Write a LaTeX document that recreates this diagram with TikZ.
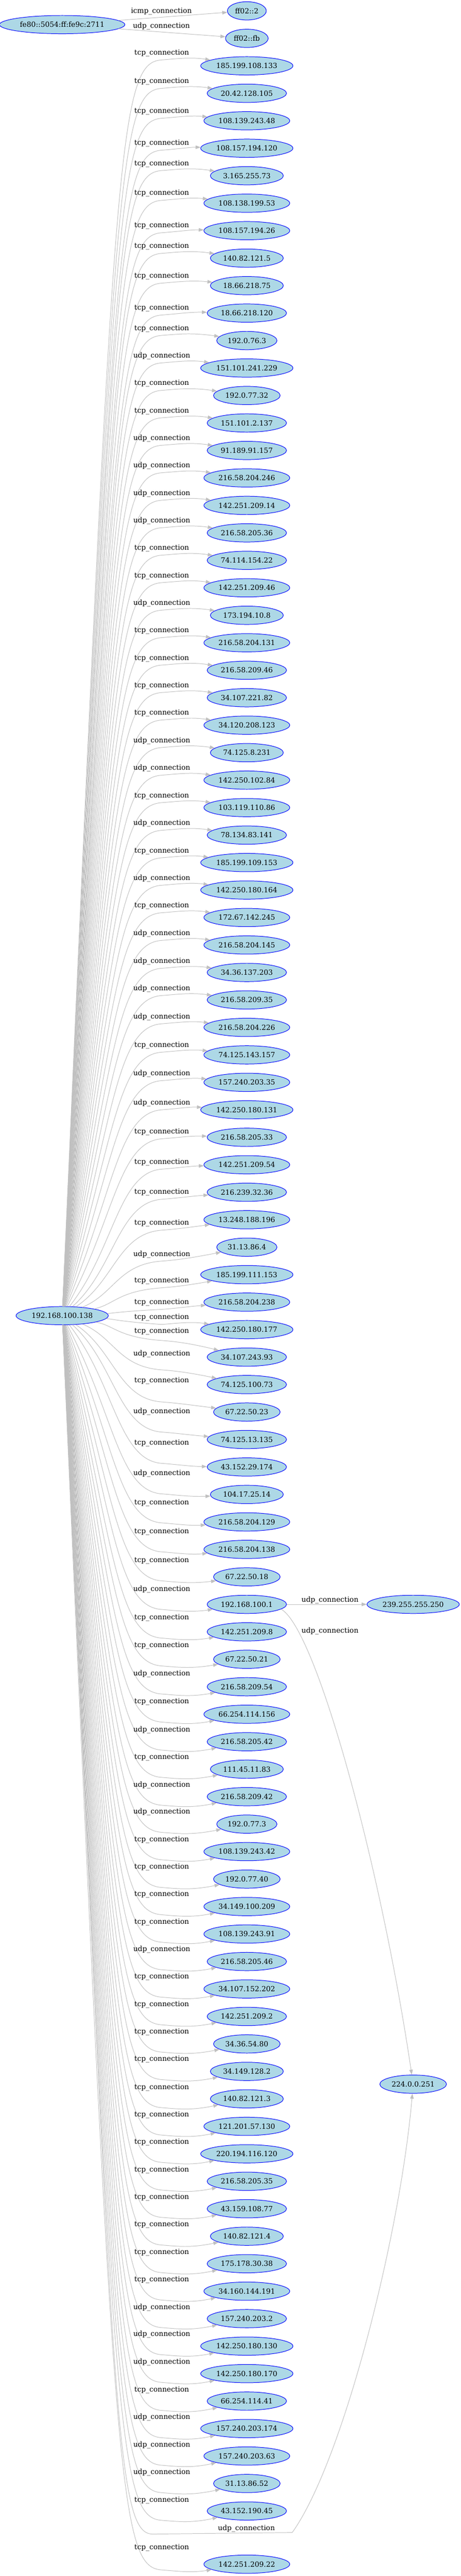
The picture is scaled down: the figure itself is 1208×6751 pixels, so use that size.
\documentclass[tikz,border=0pt]{standalone}
\usepackage{fontspec}
\setmainfont{DejaVu Serif}
\usetikzlibrary{arrows.meta,shapes.geometric}
\definecolor{nodefill}{HTML}{ADD8E6}
\definecolor{nodeline}{HTML}{0000FF}
\definecolor{edgegray}{HTML}{C0C0C0}
\tikzset{
  host/.style={ellipse, draw=nodeline, fill=nodefill, line width=1pt, minimum height=36pt,
    inner xsep=4pt, inner ysep=0pt, font=\fontsize{14}{16}\selectfont},
  conn/.style={draw=edgegray, line width=1pt, -{Triangle[length=10pt,width=7pt]}},
  lab/.style={font=\fontsize{14}{16}\selectfont, inner sep=0pt},
}
\begin{document}
\begin{tikzpicture}[x=0.75pt,y=-0.75pt]
\useasboundingbox (0,0) rectangle (1208,6751);
% left column
\node[host] (fe) at (163,64.5) {fe80::5054:ff:fe9c:2711};
\node[host] (src) at (163,3448) {192.168.100.138};
% middle column
\foreach \i/\t in {0/ff02::2,1/ff02::fb,2/185.199.108.133,3/20.42.128.105,4/108.139.243.48,
 5/108.157.194.120,6/3.165.255.73,7/108.138.199.53,8/108.157.194.26,9/140.82.121.5,
 10/18.66.218.75,11/18.66.218.120,12/192.0.76.3,13/151.101.241.229,14/192.0.77.32,
 15/151.101.2.137,16/91.189.91.157,17/216.58.204.246,18/142.251.209.14,19/216.58.205.36,
 20/74.114.154.22,21/142.251.209.46,22/173.194.10.8,23/216.58.204.131,24/216.58.209.46,
 25/34.107.221.82,26/34.120.208.123,27/74.125.8.231,28/142.250.102.84,29/103.119.110.86,
 30/78.134.83.141,31/185.199.109.153,32/142.250.180.164,33/172.67.142.245,34/216.58.204.145,
 35/34.36.137.203,36/216.58.209.35,37/216.58.204.226,38/74.125.143.157,39/157.240.203.35,
 40/142.250.180.131,41/216.58.205.33,42/142.251.209.54,43/216.239.32.36,44/13.248.188.196,
 45/31.13.86.4,46/185.199.111.153,47/216.58.204.238,48/142.250.180.177,49/34.107.243.93,
 50/74.125.100.73,51/67.22.50.23,52/74.125.13.135,53/43.152.29.174,54/104.17.25.14,
 55/216.58.204.129,56/216.58.204.138,57/67.22.50.18,58/192.168.100.1,59/142.251.209.8,
 60/67.22.50.21,61/216.58.209.54,62/66.254.114.156,63/216.58.205.42,64/111.45.11.83,
 65/216.58.209.42,66/192.0.77.3,67/108.139.243.42,68/192.0.77.40,69/34.149.100.209,
 70/108.139.243.91,71/216.58.205.46,72/34.107.152.202,73/142.251.209.2,74/34.36.54.80,
 75/34.149.128.2,76/140.82.121.3,77/121.201.57.130,78/220.194.116.120,79/216.58.205.35,
 80/43.159.108.77,81/140.82.121.4,82/175.178.30.38,83/34.160.144.191,84/157.240.203.2,
 85/142.250.180.130,86/142.250.180.170,87/66.254.114.41,88/157.240.203.174,89/157.240.203.63,
 90/31.13.86.52,91/43.152.190.45}{
  \node[host] (n\i) at (647,{28.5+72*\i}) {\t};
}
\node[host] (n92) at (647,6720) {142.251.209.22};
% right column
\node[host] (r1) at (1083,4204.5) {239.255.255.250};
\node[host] (r2) at (1083,5462) {224.0.0.251};
% fe80 edges
\draw[conn] (fe) -- (n0);
\node[lab] (lfe0) at (423,29.7) {icmp\_connection};
\draw[conn] (fe) -- (n1);
\node[lab] (lfe1) at (423,69) {udp\_connection};
% edges from 192.168.100.138
\foreach \i/\ly/\tx/\off/\g in {
 2/139/tcp/18/1, 3/213.5/tcp/18/1, 4/292/tcp/18/1, 5/375.6/tcp/18/1, 6/429/tcp/18/1,
 7/507/tcp/18/1, 8/592/tcp/18/1, 9/646/tcp/18/1, 10/724/tcp/18/1, 11/807.6/tcp/18/1,
 12/861/tcp/18/1, 13/933/udp/18/1, 14/1005/tcp/18/1, 15/1077/tcp/18/1, 16/1149/udp/18/1,
 17/1221/udp/18/1, 18/1293/udp/18/1, 19/1365/udp/18/1, 20/1437/tcp/18/1, 21/1509/tcp/18/1,
 22/1581/udp/18/1, 23/1653/tcp/18/1, 24/1725/tcp/18/1, 25/1797/tcp/18/1, 26/1869/tcp/18/1,
 27/1941/udp/18/1, 28/2013.5/udp/18/1, 29/2085.5/tcp/18/1, 30/2158/udp/18/1, 31/2230/tcp/18/1,
 32/2302/udp/18/1, 33/2374/tcp/18/1, 34/2446.5/udp/18/1, 35/2519.6/udp/18/1, 36/2591/udp/18/1,
 37/2665/udp/18/1, 38/2739.5/tcp/18/1, 39/2814/udp/18/1, 40/2890.5/udp/18/1, 41/2966.5/tcp/18/1,
 42/3046/tcp/18/1, 43/3125/tcp/18/1, 44/3206/tcp/18/1, 45/3287/udp/18/1, 46/3357/tcp/18/1,
 47/3413.5/tcp/18/1, 48/3453/tcp/18/1,
 49/3489/tcp/24/-1, 50/3548/udp/42/-1, 51/3619/tcp/55/-1, 52/3700/udp/53/-1, 53/3782/tcp/53/-1,
 54/3862/udp/53/-1, 55/3938/tcp/53/-1, 56/4014/tcp/53/-1, 57/4090/tcp/53/-1, 58/4165/udp/53/-1,
 59/4240/tcp/53/-1, 60/4313/tcp/53/-1, 61/4386.5/udp/53/-1, 62/4460/tcp/53/-1, 63/4533.5/udp/53/-1,
 64/4605/tcp/53/-1, 65/4678/udp/53/-1, 66/4749/udp/53/-1, 67/4821/tcp/53/-1, 68/4893.5/tcp/53/-1,
 69/4965/tcp/53/-1, 70/5037/tcp/53/-1, 71/5109/udp/53/-1, 72/5181/tcp/53/-1, 73/5253.5/tcp/53/-1,
 74/5325/tcp/53/-1, 75/5397/tcp/53/-1, 76/5470.6/tcp/53/-1, 77/5542.4/tcp/53/-1, 78/5614/tcp/53/-1,
 79/5686.5/tcp/53/-1, 80/5758/tcp/53/-1, 81/5830.6/tcp/53/-1, 82/5903/tcp/53/-1, 83/5974.7/tcp/53/-1,
 84/6047/udp/53/-1, 85/6118/udp/53/-1, 86/6190.6/udp/53/-1, 87/6264/tcp/53/-1, 88/6335.5/udp/53/-1,
 89/6407.7/udp/53/-1, 90/6479.6/udp/53/-1, 91/6552/tcp/53/-1, 92/6677/tcp/58/-1}{
  \pgfmathsetmacro\mY{\ly+\off}
  \pgfmathsetmacro\dd{\mY-3448}
  \pgfmathsetmacro\cA{\mY-max(-210,min(210,0.6*\dd))}
  \pgfmathsetmacro\cB{\mY-0.35*max(-23,min(23,\dd))}
  \pgfmathsetmacro\cC{\mY-3*\g}
  \pgfmathsetmacro\cD{\mY-8*\g}
  \draw[conn] (src) .. controls (300,\cA) and (310,\cB) .. (424,\mY) .. controls (464,\cC) and (500,\cD) .. (n\i);
  \node[lab] (l\i) at (424,\ly) {\tx\_connection};
}
% long edge to 224.0.0.251
\coordinate (lb1) at (400,6641);
\coordinate (lb2) at (766,6637);
\draw[conn] (src) .. controls (300,6300) and (300,6641) .. (lb1) -- (lb2) .. controls (900,6450) and (1050,5850) .. (r2);
\node[lab] (llong) at (646,6626) {udp\_connection};
% edges from 192.168.100.1
\draw[conn] (n58) -- (r1);
\node[lab] (lr1) at (865,4194) {udp\_connection};
\draw[conn] (n58.-8) .. controls (830,4270) and (1000,4900) .. (r2);
\node[lab] (lr2) at (865,4275) {udp\_connection};
\end{tikzpicture}
\end{document}
